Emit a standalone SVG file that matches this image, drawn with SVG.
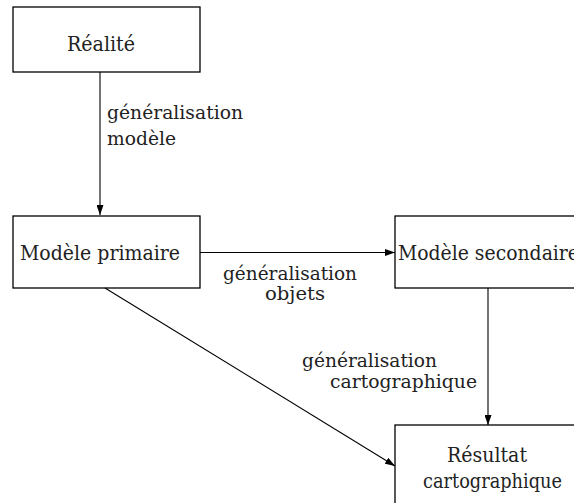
<svg xmlns="http://www.w3.org/2000/svg" width="574" height="503" viewBox="0 0 574 503">
<style>
.b{fill:#fff;stroke:#000;stroke-width:1.3}
.c line{stroke:#000;stroke-width:1.1;fill:none}
</style>
<defs>
<marker id="a" viewBox="0 0 10 7" refX="10" refY="3.5" markerWidth="10" markerHeight="7" markerUnits="userSpaceOnUse" orient="auto">
<path d="M0,0 L10,3.5 L0,7 Z" fill="#000"/>
</marker>
</defs>
<rect width="574" height="503" fill="#fff"/>
<g font-family="DejaVu Serif, serif" font-size="20" fill="#222">
<g id="realite"><rect class="b" x="13" y="7" width="187" height="65"/><text x="67" y="51" textLength="68" lengthAdjust="spacingAndGlyphs">Réalité</text></g>
<g id="primaire"><rect class="b" x="13" y="216" width="187" height="72"/><text x="20" y="260" textLength="160" lengthAdjust="spacingAndGlyphs">Modèle primaire</text></g>
<g id="secondaire"><rect class="b" x="395" y="216" width="190" height="72"/><text x="398" y="260" textLength="181" lengthAdjust="spacingAndGlyphs">Modèle secondaire</text></g>
<g id="resultat"><rect class="b" x="395" y="425" width="190" height="90"/><text x="447" y="462" textLength="80" lengthAdjust="spacingAndGlyphs">Résultat</text><text x="423" y="488" textLength="139" lengthAdjust="spacingAndGlyphs">cartographique</text></g>
<g class="c" id="connectors">
<line x1="100" y1="72" x2="100" y2="215" marker-end="url(#a)"/>
<line x1="200" y1="252.5" x2="395" y2="252.5" marker-end="url(#a)"/>
<line x1="488" y1="288" x2="488" y2="425" marker-end="url(#a)"/>
<line x1="105" y1="288" x2="395" y2="466" marker-end="url(#a)"/>
</g>
<g id="labels" font-size="19">
<text x="107" y="119" textLength="136" lengthAdjust="spacingAndGlyphs">généralisation</text>
<text x="107" y="145" textLength="69" lengthAdjust="spacingAndGlyphs">modèle</text>
<text x="223" y="280" textLength="134" lengthAdjust="spacingAndGlyphs">généralisation</text>
<text x="265" y="300" textLength="60" lengthAdjust="spacingAndGlyphs">objets</text>
<text x="302" y="367" textLength="135" lengthAdjust="spacingAndGlyphs">généralisation</text>
<text x="330" y="388" textLength="147" lengthAdjust="spacingAndGlyphs">cartographique</text>
</g>
</g>
</svg>
